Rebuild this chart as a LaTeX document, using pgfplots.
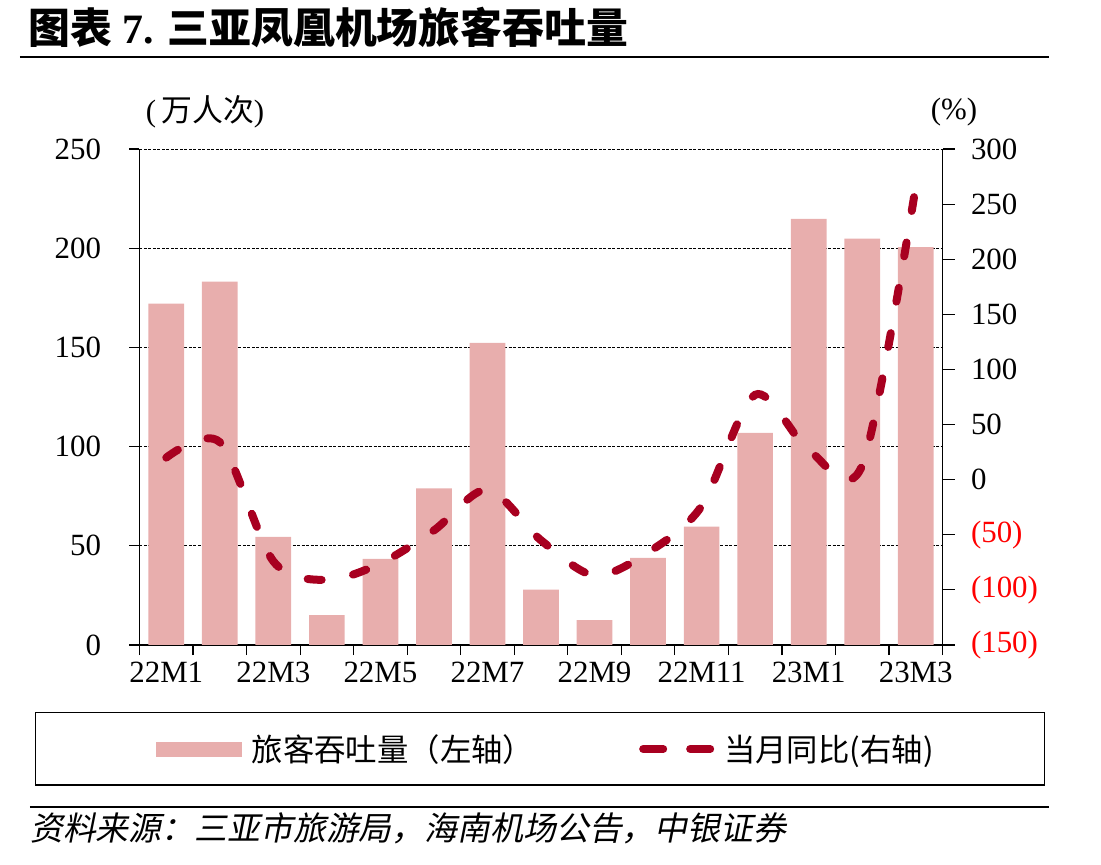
\documentclass[border=0pt]{standalone}
\usepackage{pgfplots}
\pgfplotsset{compat=1.18}
\usepackage{fontspec}
\setmainfont{Liberation Serif}
\newfontfamily\cjk{Noto Sans CJK SC}
\newfontfamily\cjkslant{Noto Sans CJK SC}[FakeSlant=0.2]
\definecolor{barpink}{RGB}{232,174,173}
\definecolor{linered}{RGB}{168,0,32}

% monthly passenger throughput (10k) and year-on-year change (%)
\pgfplotstableread{
idx pax yoy
0 172.1 20
1 183.1 34
2 54.5 -74
3 15.1 -91
4 43.4 -76
5 79.0 -46
6 152.3 -9
7 27.9 -55
8 12.6 -87
9 43.9 -66
10 59.7 -24
11 106.9 77
12 214.8 27
13 204.8 13
14 200.6 266
}\datatable

\newcommand{\tickfont}{\fontsize{31}{36}\selectfont}

\begin{document}
\begin{tikzpicture}
\useasboundingbox (-139.5bp,-220bp) rectangle (961.5bp,645bp);

% left axis: throughput bars
\begin{axis}[
  scale only axis, width=803bp, height=496bp,
  xmin=-0.5, xmax=14.5, ymin=0, ymax=250,
  axis y line*=left, axis x line*=bottom,
  axis line style={line width=1.2bp, black, -},
  tick align=outside,
  tick style={line width=1.2bp, black},
  ytick={0,50,...,250},
  y tick label style={font=\tickfont, /pgf/number format/assume math mode=true},
  yticklabel style={xshift=-25bp},
  major tick length=10bp,
  ymajorgrids,
  grid style={black, line width=0.9bp, dash pattern=on 3bp off 1.5bp},
  xtick={-0.5,0.5,...,14.5},
  xticklabels={22M1,,22M3,,22M5,,22M7,,22M9,,22M11,,23M1,,23M3,},
  x tick label style={font=\tickfont, xshift=26.77bp, yshift=-4bp},
]
\addplot[ybar, bar width=35.7bp, fill=barpink, draw=none] table[x=idx, y=pax] {\datatable};
\end{axis}

% right axis: year-on-year change
\begin{axis}[
  scale only axis, width=803bp, height=496bp,
  xmin=-0.5, xmax=14.5, ymin=-150, ymax=300,
  axis y line*=right, axis x line=none,
  axis line style={line width=1.2bp, black, -},
  tick align=outside,
  tick style={line width=1.2bp, black},
  major tick length=12bp,
  ytick={-150,-100,...,300},
  yticklabels={{\color{red}(150)},{\color{red}(100)},{\color{red}(50)},0,50,100,150,200,250,300},
  y tick label style={font=\tickfont, anchor=west, xshift=13bp},
  legend columns=2,
  legend style={at={(0.505,-0.2097)}, anchor=center, draw=none, fill=none,
    font=\cjk\fontsize{31.5}{36}\selectfont,
    nodes={inner sep=0pt},
    cells={anchor=west},
    /tikz/every odd column/.append style={column sep=10bp},
    /tikz/every even column/.append style={column sep=105bp},
    /tikz/column 3/.append style={column sep=22bp}},
]
\addlegendimage{legend image code/.code={\fill[barpink] (0bp,-7bp) rectangle (85bp,7bp);}}
\addlegendentry{旅客吞吐量（左轴）}
\addplot[smooth, linered, line width=8bp, line cap=round, dash pattern=on 14bp off 32bp,
  legend image code/.code={\draw[linered, line width=8bp, line cap=round, dash pattern=on 20bp off 27bp] (4bp,0bp)--(71bp,0bp);}]
  table[x=idx, y=yoy] {\datatable};
\addlegendentry{当月同比(右轴)}
\end{axis}

% headings, units, legend frame and source
\node[anchor=west, inner sep=0pt] at (-111.5bp,617bp)
  {\fontsize{42}{48}\selectfont\bfseries{\cjk 图表} 7. {\cjk 三亚凤凰机场旅客吞吐量}};
\draw[line width=2.2bp] (-119.5bp,588bp) -- (909bp,588bp);
\node[inner sep=0pt] at (65.5bp,533bp) {\fontsize{31}{36}\selectfont(\,{\cjk 万人次})};
\node[inner sep=0pt] at (814.5bp,533bp) {\fontsize{31}{36}\selectfont(\%)};
\draw[line width=1.3bp] (-104bp,-67.5bp) rectangle (905bp,-140bp);
\draw[line width=2.6bp] (-109.5bp,-162bp) -- (909bp,-162bp);
\node[anchor=west, inner sep=0pt] at (-109.5bp,-183bp)
  {\cjkslant\fontsize{33}{39}\selectfont 资料来源：三亚市旅游局，海南机场公告，中银证券};
\end{tikzpicture}
\end{document}
